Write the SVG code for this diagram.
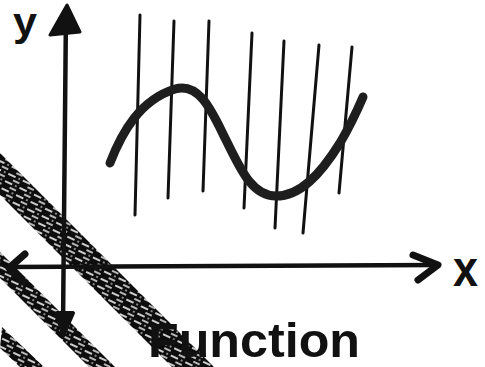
<svg xmlns="http://www.w3.org/2000/svg" width="485" height="367" viewBox="0 0 485 367">
  <style>
    .grid { stroke: #111; stroke-width: 3; stroke-linecap: round; fill: none; }
    .axis { stroke: #111; stroke-width: 4.5; stroke-linecap: round; stroke-linejoin: round; fill: none; }
    .head { stroke: #111; stroke-width: 7; stroke-linecap: round; stroke-linejoin: round; fill: none; }
    .lbl { font-family: "Liberation Sans", Arial, sans-serif; font-weight: bold; fill: #111; }
    .band { fill: url(#hatch); }
  </style>
  <defs>
    <pattern id="hatch" width="16" height="8" patternUnits="userSpaceOnUse" patternTransform="rotate(25)">
      <rect width="16" height="8" fill="#0d0d0d"/>
      <line x1="1" y1="2" x2="9" y2="2" stroke="#fff" stroke-width="1.6"/>
      <line x1="8" y1="6" x2="15" y2="6" stroke="#fff" stroke-width="1.4"/>
      <line x1="12" y1="2" x2="14" y2="2" stroke="#fff" stroke-width="1.2"/>
    </pattern>
  </defs>
  <rect width="485" height="367" fill="#fff"/>

  <!-- vertical grid lines -->
  <g id="grid">
    <line class="grid" x1="140" y1="15" x2="135" y2="215"/>
    <line class="grid" x1="174" y1="21" x2="168" y2="198"/>
    <line class="grid" x1="209" y1="21" x2="203" y2="191"/>
    <line class="grid" x1="252" y1="33" x2="244" y2="208"/>
    <line class="grid" x1="284" y1="41" x2="275" y2="228"/>
    <line class="grid" x1="319" y1="45" x2="303" y2="233"/>
    <line class="grid" x1="352" y1="47" x2="339" y2="193"/>
  </g>

  <!-- sine curve -->
  <g id="curve">
    <path d="M110,163 C122,132 140,100 175,89 C200,82 212,112 226,140 C241,170 252,196 276,196 C300,196 320,175 340,143 C350,126 357,111 363,97" fill="none" stroke="#1e1e1e" stroke-width="9" stroke-linecap="round"/>
  </g>

  <!-- hatched diagonal bands -->
  <g id="bands">
    <polygon class="band" points="0,153 214,367 172,367 0,195"/>
    <polygon class="band" points="0,252 115,367 89,367 0,278"/>
    <polygon class="band" points="2,327 44,367 20,367 0,348"/>
  </g>

  <!-- axes -->
  <g id="axes">
    <line class="axis" x1="66" y1="10" x2="63" y2="325"/>
    <path d="M67,5 L50,35 L80,32 Z" fill="#111" stroke="#111" stroke-width="3" stroke-linejoin="round"/>
    <path d="M57,313 L63,336 L73,313 Z" fill="#111" stroke="#111" stroke-width="4" stroke-linejoin="round"/>
    <line class="axis" x1="8" y1="267" x2="436" y2="265"/>
    <polyline class="head" points="413,255 438,265 418,280"/>
    <polyline class="head" points="25,254 9,268 24,282"/>
  </g>

  <!-- labels -->
  <g id="labels">
    <text class="lbl" x="13" y="36" font-size="40" textLength="24" lengthAdjust="spacingAndGlyphs">y</text>
    <text class="lbl" x="453" y="286" font-size="50" textLength="25" lengthAdjust="spacingAndGlyphs">x</text>
    <text class="lbl" x="148" y="357" font-size="48" textLength="212" lengthAdjust="spacingAndGlyphs">Function</text>
  </g>
</svg>
